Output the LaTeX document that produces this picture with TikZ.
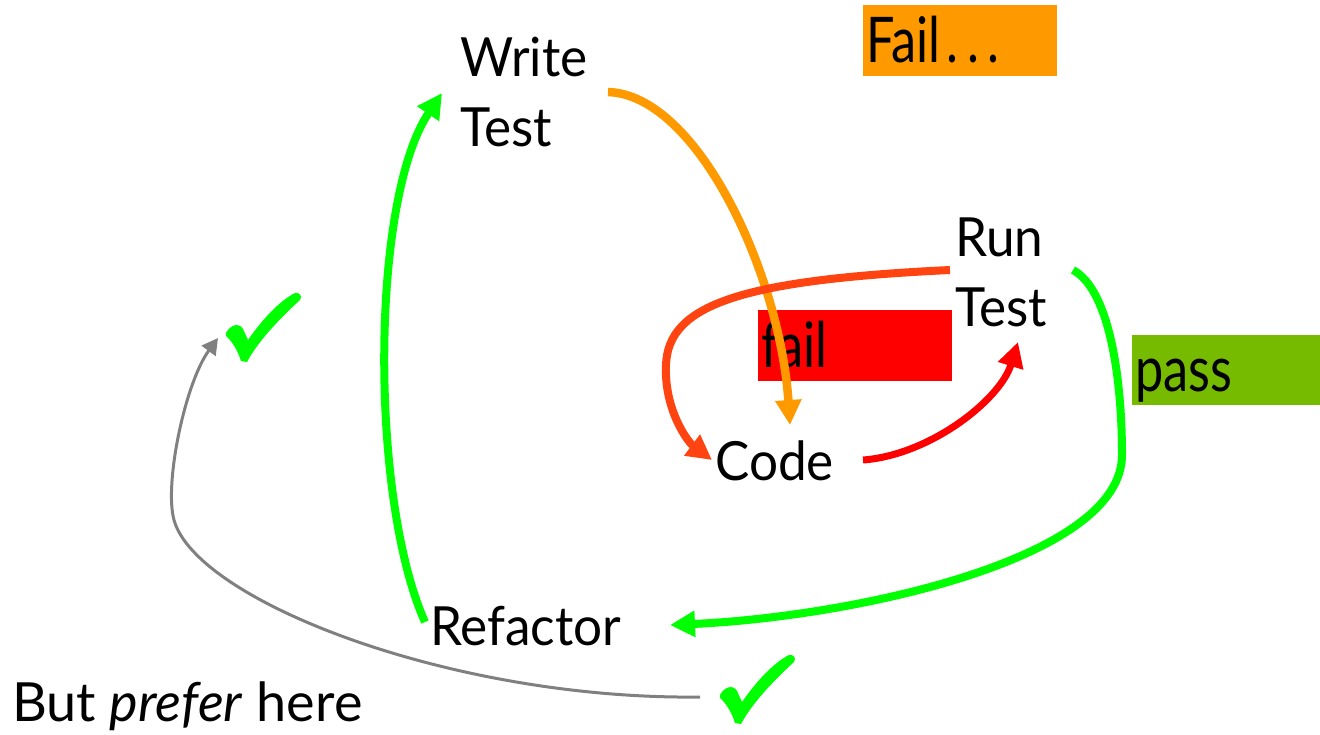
\documentclass[tikz,border=0pt]{standalone}
\usepackage{fontspec}
\setmainfont{Lato}
\newfontfamily\stepfont[FakeStretch=0.95]{Lato}
\newfontfamily\condfont[FakeStretch=0.8]{Lato}
\usetikzlibrary{arrows.meta}
\definecolor{brightgreen}{HTML}{00FF00}
\definecolor{amber}{HTML}{FF9900}
\definecolor{flame}{HTML}{FF4411}
\definecolor{signalred}{HTML}{FF0000}
\definecolor{passgreen}{HTML}{77BB00}
\definecolor{midgray}{HTML}{808080}
\begin{document}
\begin{tikzpicture}[x=1pt,y=-1pt,
  label/.style={font=\stepfont\fontsize{54pt}{70pt}\selectfont, inner sep=0pt, anchor=base west, align=left},
  tag/.style={font=\condfont\fontsize{63pt}{63pt}\selectfont, inner xsep=3pt, inner ysep=0pt,
              anchor=base west, align=left},
  flow/.style={line width=8pt, -{Triangle[length=25pt,width=25pt]}},
  hint/.style={line width=3pt, midgray, -{Triangle[length=16pt,width=17pt]}},
  pics/tick/.style={code={
    \fill[brightgreen] (0,40) .. controls (4,32) and (13,29) .. (17,36) -- (22,47)
      .. controls (38,24) and (55,7) .. (69,0) .. controls (73,-1) and (77,3) .. (74,7)
      .. controls (51,28) and (31,50) .. (21,69) -- (15,68)
      .. controls (12,58) and (6,48) .. (0,43) -- cycle;}}
]
\useasboundingbox (0,0) rectangle (1320,734);

% cycle steps (multi-line nodes sit on the baseline of their last line)
\node[label] (wt)   at (460,146) {Write\\Test};
\node[label] (rt)   at (955,326) {Run\\Test};
\node[label] (code) at (715,480) {Code};
\node[label] (ref)  at (430,645) {Refactor};
\node[label, font=\fontsize{54pt}{70pt}\selectfont] (pref) at (12,721) {But \textit{prefer} here};

% coloured outcome tags
\node[tag, fill=amber, text width=188pt, text height=57pt, text depth=14pt] (failall) at (863,62)
  {Fail\kern6pt.\kern9pt.\kern9pt.};
\node[tag, fill=signalred, text width=188pt, text height=57pt, text depth=14pt] (failtag) at (758,367) {fail};
\node[tag, fill=passgreen, text width=182pt, text height=56pt, text depth=14pt] (passtag) at (1132,391) {pass};

% check marks
\coordinate (ck1) at (226,293);
\coordinate (ck2) at (720,655);
\pic at (ck1) {tick};
\pic at (ck2) {tick};

% refactor -> write test
\draw[flow, brightgreen] ([shift={(-5,-23)}]ref.base west)
  .. controls +(-55,-122) and +(-72,107) .. ([shift={(-18,-53)}]wt.base west);
% write test -> code
\draw[flow, amber, line width=8.5pt] ([shift={(148,-54)}]wt.base west)
  .. controls +(90,3) and +(-10,-150) .. ([shift={(75,-55)}]code.base west);
% run test -> code (fail)
\draw[flow, flame, line width=8pt] ([shift={(-5,-56)}]rt.base west)
  .. controls +(-210,10) and +(2,-60) .. (666,365)
  .. controls +(-2,45) and +(-24,-18) .. ([shift={(-3,-20)}]code.base west);
% code -> run test
\draw[flow, signalred, line width=7pt] ([shift={(148,-20)}]code.base west)
  .. controls +(67,-5) and +(-18,58) .. ([shift={(63,16)}]rt.base west);
% run test -> refactor (pass)
\draw[flow, brightgreen] ([shift={(118,-56)}]rt.base west)
  .. controls +(37,20) and +(0,-75) .. (1122,455)
  .. controls +(0,105) and +(180,-8) .. ([shift={(240,-20)}]ref.base west);
% preferred stopping point
\draw[hint] ([shift={(-20,42)}]ck2)
  .. controls +(-250,3) and +(22,80) .. (174,520)
  .. controls +(-10,-36) and +(-33,45) .. ([shift={(-8,45)}]ck1);
\end{tikzpicture}
\end{document}
